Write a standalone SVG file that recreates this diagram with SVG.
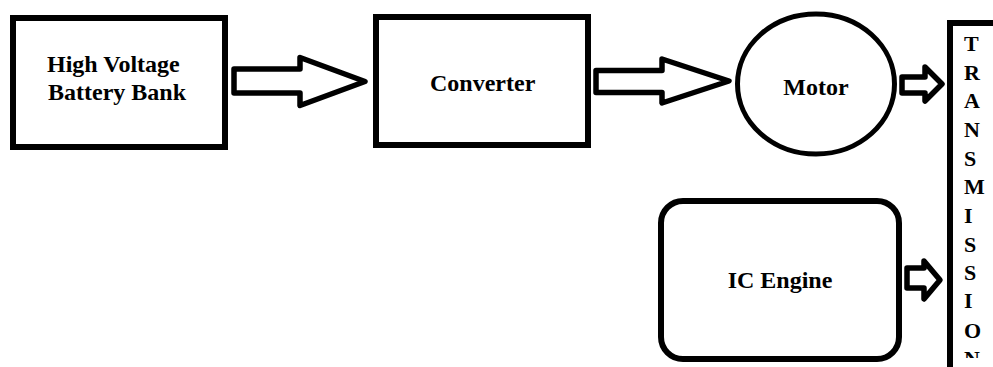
<svg xmlns="http://www.w3.org/2000/svg" width="993" height="367" viewBox="0 0 993 367">
<style>
.box{fill:#fff;stroke:#000;stroke-width:6}
.arr{fill:#fff;stroke:#000;stroke-width:5.5;stroke-linejoin:round}
.lbl{font-family:"Liberation Serif","Times New Roman",serif;font-weight:bold;font-size:24px;fill:#000}
.tl{font-family:"Liberation Serif","Times New Roman",serif;font-weight:bold;font-size:22px;fill:#000}
</style>
<defs>
<clipPath id="tclip"><rect x="953" y="26" width="40" height="332"/></clipPath>
</defs>
<rect width="993" height="367" fill="#fff"/>
<g id="battery">
<rect class="box" x="13" y="18" width="212" height="129"/>
<text class="lbl" x="47" y="72">High Voltage</text>
<text class="lbl" x="48" y="100">Battery Bank</text>
</g>
<g id="converter">
<rect class="box" x="376" y="17" width="212" height="128"/>
<text class="lbl" x="430" y="91">Converter</text>
</g>
<g id="motor">
<ellipse cx="816" cy="84" rx="78.5" ry="70" fill="#fff" stroke="#000" stroke-width="5"/>
<text class="lbl" x="816" y="95" text-anchor="middle">Motor</text>
</g>
<g id="icengine">
<rect class="box" x="661" y="201" width="238" height="158" rx="22" ry="22"/>
<text class="lbl" x="780" y="288" text-anchor="middle">IC Engine</text>
</g>
<g id="transmission">
<rect class="box" x="950" y="23" width="100" height="400"/>
<g clip-path="url(#tclip)">
<text class="tl" x="964" y="51">T</text>
<text class="tl" x="964" y="80">R</text>
<text class="tl" x="964" y="108">A</text>
<text class="tl" x="964" y="137">N</text>
<text class="tl" x="964" y="166">S</text>
<text class="tl" x="964" y="194">M</text>
<text class="tl" x="964" y="223">I</text>
<text class="tl" x="964" y="252">S</text>
<text class="tl" x="964" y="280">S</text>
<text class="tl" x="964" y="308">I</text>
<text class="tl" x="964" y="338">O</text>
<text class="tl" x="964" y="366">N</text>
</g>
</g>
<g id="connectors">
<polygon class="arr" points="234,69 300,69 300,57.5 365,81.5 300,105.5 300,93 234,93"/>
<polygon class="arr" points="596,70.5 662,70.5 662,59 729,81 662,103 662,92.5 596,92.5"/>
<polygon class="arr" points="902,77 925,77 925,67 942,84 925,101 925,93 902,93"/>
<polygon class="arr" points="907,268 924,268 924,261 940,280 924,299 924,288 907,288"/>
</g>
</svg>
